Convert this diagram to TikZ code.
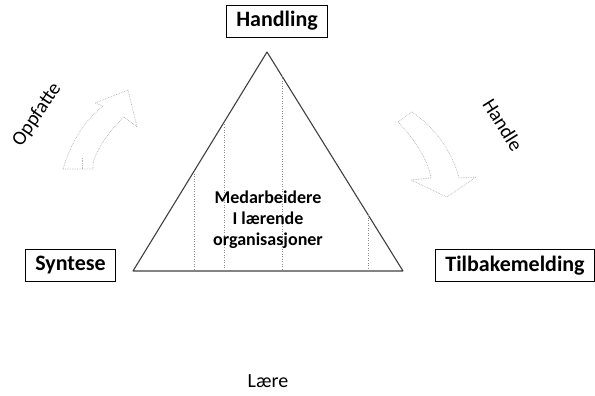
\documentclass[tikz,border=0pt]{standalone}
\usepackage{fontspec}
\setmainfont{Carlito}
\begin{document}
\begin{tikzpicture}[x=1pt, y=-1pt,
    box/.style   = {draw, line width=0.8pt, inner xsep=10pt, minimum height=32pt,
                    font=\bfseries\fontsize{22}{26}\selectfont},
    word/.style  = {font=\fontsize{20}{24}\selectfont},
    faint/.style = {draw=black!30, densely dotted, line width=0.7pt},
    guide/.style = {draw=black!45, dotted, line width=0.5pt}]
  \useasboundingbox (0,0) rectangle (595,396);
  \coordinate (top)   at (267,52);
  \coordinate (left)  at (133,271);
  \coordinate (right) at (403,271);
  \draw[black!75, line width=1.1pt, line join=round] (top) -- (left) -- (right) -- cycle;
  \foreach \x/\y in {194/171, 224/122, 282/76, 368/215}
    \draw[guide] (\x,\y) -- (\x,271);
  \node [align=center, font=\bfseries\fontsize{18}{21}\selectfont] (inner) at (268,220)
    {Medarbeidere\\I lærende\\organisasjoner};
  \node [box] (handling) at (277,21)    {Handling};
  \node [box] (syntese)  at (70.5,265.5) {Syntese};
  \node [box, anchor=west] (tilbake) at (435,265.5) {Tilbakemelding};
  % faint curved arrows
  \draw[faint] (63,169) -- (66,160) .. controls (75,135) and (88,118) .. (103,106)
    -- (95,103) -- (128,90) -- (137,127) -- (124,117)
    .. controls (110,130) and (97,148) .. (93,163) -- (93,169) -- cycle;
  \draw[faint] (82,158) -- (82,169);
  \draw[faint] (398,122) .. controls (415,140) and (428,160) .. (431,178)
    -- (411,180) -- (447,197) -- (476,177) -- (459,178)
    .. controls (452,150) and (432,125) .. (412,112) -- cycle;
  \node [word, rotate=56]  (oppfatte) at (37,115)  {Oppfatte};
  \node [word, rotate=-58] (handle)   at (503,125) {Handle};
  \node [word]             (laere)    at (268,381) {Lære};
\end{tikzpicture}
\end{document}
